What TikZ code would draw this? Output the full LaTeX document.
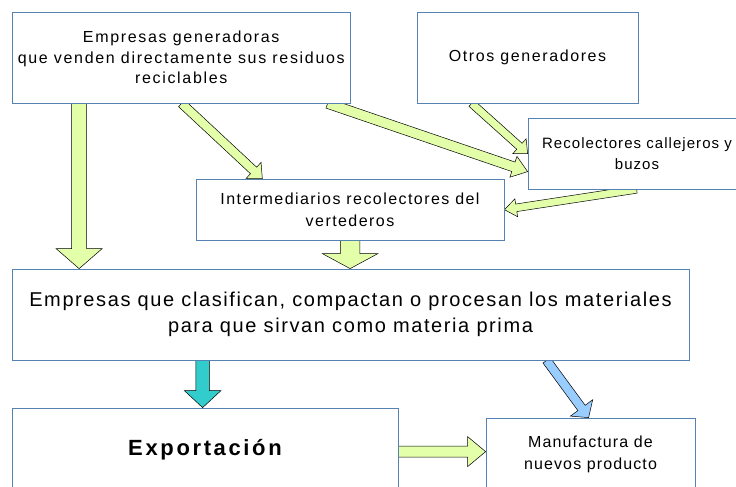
\documentclass[tikz,border=0pt]{standalone}
\usepackage{fontspec}
\setmainfont{Liberation Sans}
\usetikzlibrary{calc}
\definecolor{boxblue}{RGB}{84,130,178}
\definecolor{agreen}{RGB}{228,255,170}
\definecolor{ateal}{RGB}{51,204,204}
\definecolor{ablue}{RGB}{153,204,255}
\tikzset{
  box/.style={draw=boxblue, fill=white, line width=0.75pt, inner sep=0pt, align=center},
  arrowline/.style={draw=black, line width=0.5pt, line join=miter},
}
% #1 start, #2 end, #3 shaft half width, #4 head half width, #5 head length, #6 fill
\newcommand\blockarrow[6]{%
  \draw[arrowline, fill=#6]
    ($(#1)!#3pt!90:(#2)$) --
    ($($(#2)!#5pt!(#1)$)!#3pt!90:(#2)$) --
    ($($(#2)!#5pt!(#1)$)!#4pt!90:(#2)$) --
    (#2) --
    ($($(#2)!#5pt!(#1)$)!#4pt!-90:(#2)$) --
    ($($(#2)!#5pt!(#1)$)!#3pt!-90:(#2)$) --
    ($(#1)!#3pt!-90:(#2)$) -- cycle;}
\begin{document}
\begin{tikzpicture}[x=1pt,y=-1pt]
\useasboundingbox (0,0) rectangle (736,487);
\clip (0,0) rectangle (736,487);
% boxes (placed first to define anchors; redrawn on top later)
\path
  (181.25,57.5) node[box, minimum width=338.5, minimum height=91] (b1) {}
  (527.5,57.5) node[box, minimum width=221, minimum height=91] (b2) {}
  (637,153.5) node[box, minimum width=218, minimum height=71] (b3) {}
  (350,209.5) node[box, minimum width=308, minimum height=61] (b4) {}
  (350.5,314.5) node[box, minimum width=677, minimum height=91] (b5) {}
  (205,450) node[box, minimum width=386, minimum height=84] (b6) {}
  (590.5,454) node[box, minimum width=209, minimum height=72] (b7) {};
% arrow end points
\coordinate (aS) at ([xshift=67.5]b1.south west);
\coordinate (aE) at ([xshift=67.5]b5.north west);
\coordinate (bS) at ([xshift=170]b1.south west);
\coordinate (bE) at ([xshift=66.7]b4.north west);
\coordinate (cS) at ([xshift=316]b1.south west);
\coordinate (cE) at ([yshift=-54]b3.north west);
\coordinate (dS) at ([xshift=55]b2.south west);
\coordinate (dE) at ([yshift=-36]b3.north west);
\coordinate (eS) at ([xshift=109]b3.south west);
\coordinate (eE) at ([yshift=-31]b4.north east);
\coordinate (fS) at ([xshift=154.5]b4.south west);
\coordinate (fE) at ([xshift=338.5]b5.north west);
\coordinate (gS) at ([xshift=191]b5.south west);
\coordinate (gE) at ([xshift=191]b6.north west);
\coordinate (hS) at ([xshift=535]b5.south west);
\coordinate (hE) at ([xshift=103]b7.north west);
\coordinate (iS) at ([yshift=-44]b6.north east);
\coordinate (iE) at ([yshift=-34]b7.north west);
% arrows
\blockarrow{aS}{aE}{7.5}{23}{20}{agreen}
\blockarrow{bS}{bE}{4.5}{11}{12}{agreen}
\blockarrow{cS}{cE}{5}{11}{15}{agreen}
\blockarrow{dS}{dE}{4}{10}{11}{agreen}
\blockarrow{eS}{eE}{3.8}{9}{12}{agreen}
\blockarrow{fS}{fE}{9.7}{27.7}{15}{agreen}
\blockarrow{gS}{gE}{6.7}{18.3}{17}{ateal}
\blockarrow{hS}{hE}{4.5}{13.8}{12}{ablue}
\blockarrow{iS}{iE}{5.5}{15}{18}{agreen}
% boxes with text
\node[box, minimum width=338.5, minimum height=91, font={\fontsize{16}{20.5}\selectfont\addfontfeatures{LetterSpace=10.5}}] at (b1.center) {Empresas generadoras\\que venden directamente sus residuos\\reciclables};
\node[box, minimum width=221, minimum height=91, font={\fontsize{16}{20.5}\selectfont\addfontfeatures{LetterSpace=10}}] at (b2.center) {Otros generadores};
\node[box, minimum width=218, minimum height=71, font={\fontsize{15}{21}\selectfont\addfontfeatures{LetterSpace=7}}] at (b3.center) {Recolectores callejeros y\\buzos};
\node[box, minimum width=308, minimum height=61, font={\fontsize{16}{22}\selectfont\addfontfeatures{LetterSpace=9}}] at (b4.center) {Intermediarios recolectores del\\vertederos};
\node[box, minimum width=677, minimum height=91, font={\fontsize{20}{26}\selectfont\addfontfeatures{LetterSpace=8}}] at (b5.center) {Empresas que clasifican, compactan o procesan los materiales\\para que sirvan como materia prima};
\node[box, minimum width=386, minimum height=84, font={\fontsize{22}{24}\selectfont\bfseries\addfontfeatures{LetterSpace=12}}] at (b6.center) {Exportación};
\node[box, minimum width=209, minimum height=72, font={\fontsize{16}{22}\selectfont\addfontfeatures{LetterSpace=7}}] at (b7.center) {Manufactura de\\nuevos producto};
\end{tikzpicture}
\end{document}
